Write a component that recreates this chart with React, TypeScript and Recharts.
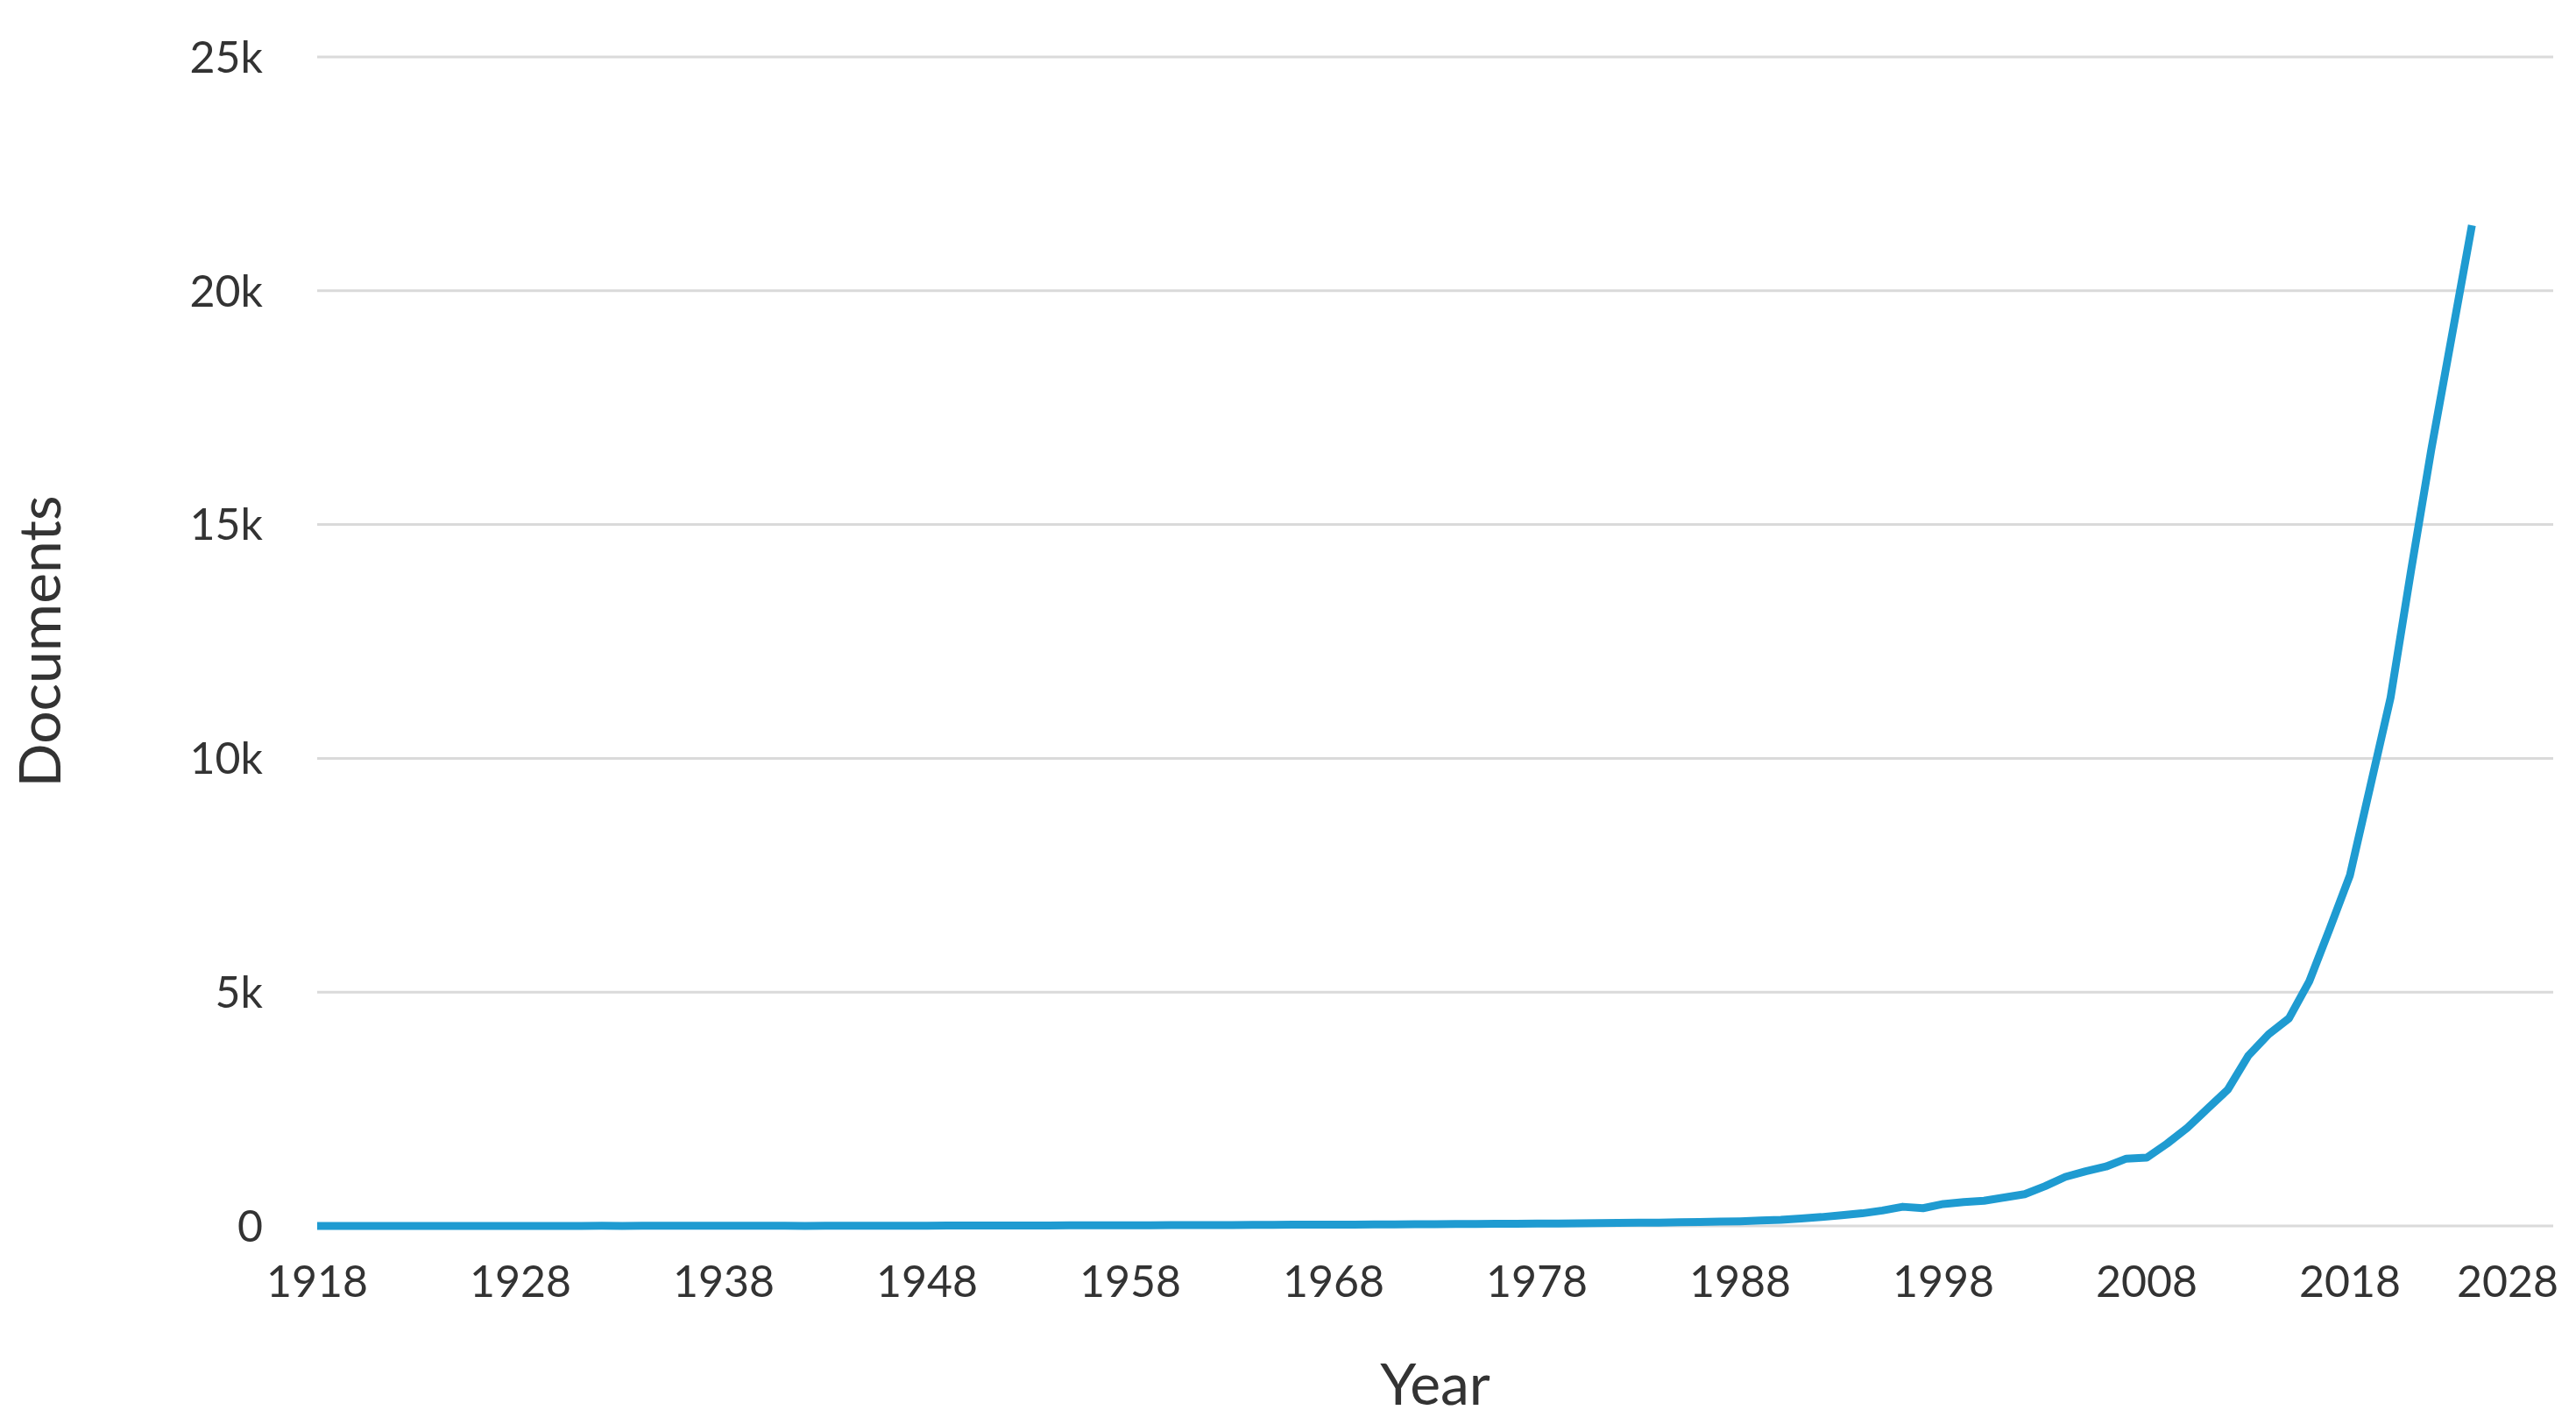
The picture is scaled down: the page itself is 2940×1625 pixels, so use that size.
import React from "react";
import { CartesianGrid, Line, LineChart, XAxis, YAxis } from "recharts";

const FONT = "Lato, 'Open Sans', sans-serif";
const LINE_COLOR = "#1f9bd1";
const TEXT_COLOR = "#333333";

const startYear = 1918;

// documents per year, 1918 → 2024
const documents = [
  1, 0, 1, 0, 1, 1, 2, 1, 1, 2, 2, 1,
  2, 2, 3, 2, 3, 3, 4, 3, 4, 4,
  3, 3, 2, 3, 4, 5, 6, 6, 7, 8,
  8, 9, 10, 10, 11, 12, 13, 14, 15, 16,
  17, 18, 20, 21, 22, 24, 26, 27, 29, 30,
  32, 34, 36, 38, 40, 42, 45, 48, 50, 53,
  56, 60, 64, 68, 72, 78, 85, 92, 100, 115,
  130, 160, 190, 230, 270, 330, 410, 380, 470, 510,
  540, 610, 680, 850, 1050, 1170, 1270, 1440, 1460, 1760,
  2100, 2510, 2920, 3640, 4100, 4440, 5230, 6350, 7500, 9400,
  11300, 14000, 16600, 19000, 21400,
];

const years = documents.map((_, i) => startYear + i);

const xTicks = [1918, 1928, 1938, 1948, 1958, 1968, 1978, 1988, 1998, 2008, 2018, 2028];
const yTicks = [0, 5000, 10000, 15000, 20000, 25000];

const data = years.map((year, i) => ({ year, documents: documents[i] }));

const formatK = (v: number) => (v === 0 ? "0" : `${v / 1000}k`);

function YearTick(props: any) {
  const { x, y, payload } = props;
  const last = payload.value === xTicks[xTicks.length - 1];
  return (
    <text
      x={last ? x + 6 : x}
      y={y}
      dy="0.71em"
      textAnchor={last ? "end" : "middle"}
      fill={TEXT_COLOR}
      fontSize={50}
      fontFamily={FONT}
    >
      {payload.value}
    </text>
  );
}

const renderYearTitle = (props: any) => {
  const vb = props.viewBox;
  return (
    <text
      x={vb.x + vb.width / 2}
      y={vb.y + 178}
      textAnchor="middle"
      dominantBaseline="central"
      fill={TEXT_COLOR}
      fontSize={66}
      fontFamily={FONT}
    >
      Year
    </text>
  );
};

const renderDocsTitle = (props: any) => {
  const vb = props.viewBox;
  const cx = vb.x + 43;
  const cy = vb.y + vb.height / 2;
  return (
    <text
      x={cx}
      y={cy}
      transform={`rotate(-90 ${cx} ${cy})`}
      textAnchor="middle"
      dominantBaseline="central"
      fill={TEXT_COLOR}
      fontSize={66}
      fontFamily={FONT}
    >
      Documents
    </text>
  );
};

export default function App() {
  return (
    <div style={{ position: "absolute", left: 0, top: 0, background: "#fff" }}>
      <LineChart width={2940} height={1625} data={data} margin={{ top: 65, right: 26, bottom: 0, left: 0 }}>
        <CartesianGrid vertical={false} stroke="#dadada" strokeWidth={3} />
        <XAxis
          dataKey="year"
          type="number"
          domain={[1918, 2028]}
          ticks={xTicks}
          interval={0}
          height={226}
          axisLine={false}
          tickLine={false}
          tickSize={0}
          tickMargin={45}
          tick={<YearTick />}
          label={renderYearTitle}
        />
        <YAxis
          domain={[0, 25000]}
          ticks={yTicks}
          interval={0}
          width={362}
          axisLine={false}
          tickLine={false}
          tickSize={0}
          tickMargin={62}
          tickFormatter={formatK}
          tick={{ fill: TEXT_COLOR, fontSize: 50, fontFamily: FONT }}
          label={renderDocsTitle}
        />
        <Line
          type="linear"
          dataKey="documents"
          stroke={LINE_COLOR}
          strokeWidth={9}
          strokeLinejoin="round"
          dot={false}
          activeDot={false}
          isAnimationActive={false}
        />
      </LineChart>
    </div>
  );
}
